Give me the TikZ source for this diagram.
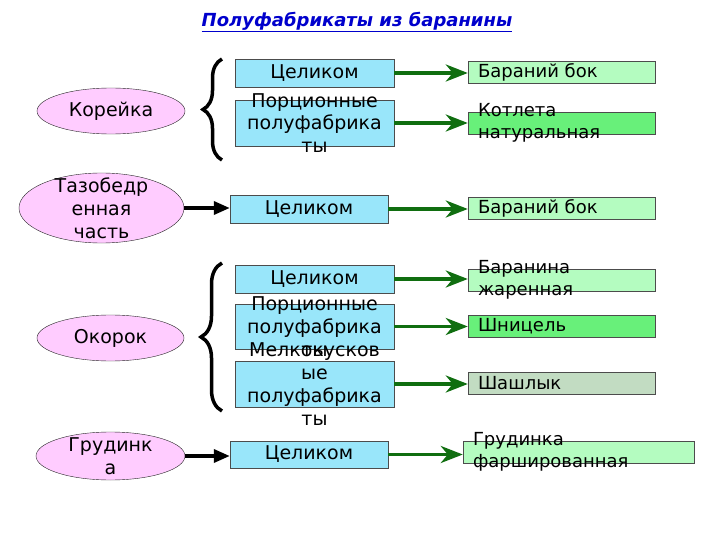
\documentclass[tikz,border=0pt]{standalone}
\usepackage{fontspec}
\setmainfont{DejaVu Sans}
\usetikzlibrary{arrows.meta, shapes.geometric, decorations.pathreplacing}

\definecolor{meatpink}{RGB}{255,204,255}
\definecolor{cutblue}{RGB}{153,230,250}
\definecolor{dishlight}{RGB}{180,252,192}
\definecolor{dishbright}{RGB}{104,240,122}
\definecolor{dishgray}{RGB}{194,220,194}
\definecolor{arrowgreen}{RGB}{16,110,16}
\definecolor{titleblue}{RGB}{0,0,204}

\begin{document}
\begin{tikzpicture}[
    x=1pt,
    y=-1pt,
    meat/.style={ellipse, draw=black!85, fill=meatpink, inner sep=0pt},
    cutbox/.style={draw=black!70, fill=cutblue, inner sep=0pt,
        minimum width=159pt, minimum height=28pt},
    dishbox/.style={draw=black!70, inner sep=0pt,
        minimum width=187pt, minimum height=22pt},
    midtext/.style={align=center, inner sep=0pt,
        font=\fontsize{19}{22.8}\selectfont},
    lefttext/.style={anchor=west, align=left, inner sep=0pt, xshift=10pt,
        font=\fontsize{18}{22}\selectfont},
    toarrow/.style={draw=arrowgreen, line width=3.5pt,
        -{Stealth[length=22pt, width=17pt, inset=7pt]}},
    fromarrow/.style={draw=black, line width=3.5pt,
        -{Triangle[length=16pt, width=13pt]}}
]
    \useasboundingbox (0,0) rectangle (720,540);
    \node[font=\fontsize{18}{21}\bfseries\itshape, text=titleblue] (title) at (357,22)
        {\underline{Полуфабрикаты из баранины}};

    % cuts of lamb
    \node[meat, minimum width=148pt, minimum height=46pt,
        label={[midtext]center:Корейка}] (kor) at (111,111) {};
    \node[meat, minimum width=165pt, minimum height=70pt,
        label={[midtext]center:Тазобедр\\енная\\часть}] (taz) at (101.5,208) {};
    \node[meat, minimum width=147pt, minimum height=46pt,
        label={[midtext]center:Окорок}] (oko) at (110.5,338) {};
    \node[meat, minimum width=149pt, minimum height=48pt,
        label={[midtext]center:Грудинк\\а}] (gru) at (110.5,456) {};

    % braces
    \draw[line width=3.5pt, decorate, decoration={brace, amplitude=19pt}]
        (222,160) -- (222,59);
    \draw[line width=3.5pt, decorate, decoration={brace, amplitude=21pt}]
        (222,411) -- (222,263);

    % ways of cutting
    \node[cutbox, label={[midtext]center:Целиком}] (cel1) at (314.5,73) {};
    \node[cutbox, minimum height=46pt,
        label={[midtext]center:Порционные\\полуфабрика\\ты}] (por1) at (314.5,123) {};
    \node[cutbox, minimum width=158pt, label={[midtext]center:Целиком}] (cel2) at (309,209) {};
    \node[cutbox, label={[midtext]center:Целиком}] (cel3) at (314.5,279) {};
    \node[cutbox, minimum height=45pt,
        label={[midtext]center:Порционные\\полуфабрика\\ты}] (por2) at (314.5,326.5) {};
    \node[cutbox, minimum height=46pt,
        label={[midtext]center:Мелкокусков\\ые\\полуфабрика\\ты}] (mel) at (314.5,384) {};
    \node[cutbox, minimum width=158pt, minimum height=27pt,
        label={[midtext]center:Целиком}] (cel4) at (309,454.5) {};

    % dishes
    \node[dishbox, fill=dishlight, label={[lefttext]west:Бараний бок}] (bok1) at (561.5,72) {};
    \node[dishbox, fill=dishbright, label={[lefttext]west:Котлета\\натуральная}] (kot) at (561.5,123) {};
    \node[dishbox, fill=dishlight, label={[lefttext]west:Бараний бок}] (bok2) at (561.5,208) {};
    \node[dishbox, fill=dishlight, label={[lefttext]west:Баранина\\жаренная}] (bar) at (561.5,280) {};
    \node[dishbox, fill=dishbright, label={[lefttext]west:Шницель}] (shn) at (561.5,326.5) {};
    \node[dishbox, fill=dishgray, label={[lefttext]west:Шашлык}] (sha) at (561.5,383.5) {};
    \node[dishbox, fill=dishlight, minimum width=231pt,
        label={[lefttext]west:Грудинка\\фаршированная}] (grf) at (578.5,452) {};

    \draw[fromarrow] (taz.east) -- (taz.east -| cel2.west);
    \draw[fromarrow] (gru.east) -- (gru.east -| cel4.west);

    \draw[toarrow] (cel1.east) -- (cel1.east -| bok1.west);
    \draw[toarrow] (por1.east) -- (por1.east -| kot.west);
    \draw[toarrow] (cel2.east) -- (cel2.east -| bok2.west);
    \draw[toarrow] (cel3.east) -- (cel3.east -| bar.west);
    \draw[toarrow] (por2.east) -- (por2.east -| shn.west);
    \draw[toarrow] (mel.east) -- (mel.east -| sha.west);
    \draw[toarrow] (cel4.east) -- (cel4.east -| grf.west);
\end{tikzpicture}
\end{document}
